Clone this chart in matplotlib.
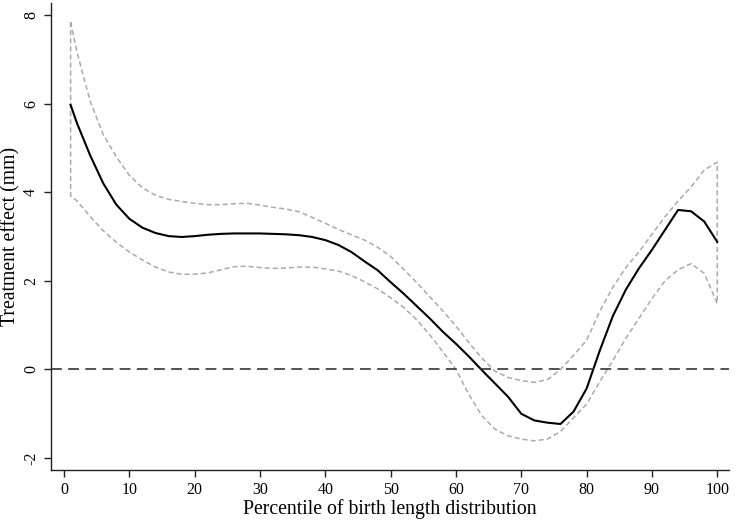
import matplotlib
matplotlib.use("Agg")
import matplotlib.pyplot as plt
import numpy as np

percentile = [1] + list(range(2, 101, 2))
effect = [5.97, 5.55, 4.83, 4.20, 3.72, 3.40, 3.20, 3.08, 3.01, 2.99,
          3.01, 3.04, 3.06, 3.07, 3.07, 3.07, 3.06, 3.05, 3.03, 2.99,
          2.92, 2.81, 2.65, 2.44, 2.24, 1.97, 1.71, 1.43, 1.15, 0.85,
          0.58, 0.29, -0.02, -0.32, -0.62, -1.00, -1.15, -1.20, -1.23, -0.95,
          -0.43, 0.42, 1.20, 1.80, 2.28, 2.70, 3.15, 3.60, 3.57, 3.34,
          2.88]
upper = [7.84, 7.15, 6.05, 5.30, 4.80, 4.38, 4.10, 3.93, 3.84, 3.79,
         3.75, 3.72, 3.72, 3.74, 3.75, 3.71, 3.66, 3.62, 3.56, 3.43,
         3.30, 3.16, 3.04, 2.92, 2.76, 2.55, 2.26, 1.96, 1.64, 1.32,
         0.98, 0.60, 0.25, -0.04, -0.18, -0.25, -0.29, -0.23, 0.00, 0.32,
         0.66, 1.31, 1.85, 2.30, 2.65, 3.05, 3.45, 3.80, 4.12, 4.50,
         4.68]
lower = [3.92, 3.80, 3.45, 3.13, 2.87, 2.65, 2.47, 2.31, 2.20, 2.15,
         2.15, 2.18, 2.25, 2.32, 2.33, 2.30, 2.28, 2.29, 2.31, 2.31,
         2.27, 2.22, 2.12, 1.98, 1.82, 1.62, 1.40, 1.12, 0.78, 0.40,
         0.00, -0.57, -1.05, -1.35, -1.50, -1.57, -1.61, -1.57, -1.40, -1.09,
         -0.78, -0.28, 0.20, 0.70, 1.15, 1.60, 2.00, 2.25, 2.39, 2.17,
         1.49]
xticks = [0, 10, 20, 30, 40, 50, 60, 70, 80, 90, 100]
yticks = [-2, 0, 2, 4, 6, 8]

plt.rcParams['font.family'] = ['Liberation Serif', 'DejaVu Serif']

fig = plt.figure(figsize=(7.5, 5.27), dpi=100)
ax = fig.add_axes([0.068, 0.108, 0.904, 0.8863])

# CI band outline as closed polygon
px = list(percentile) + list(percentile[::-1]) + [percentile[0]]
py = list(upper) + list(lower[::-1]) + [upper[0]]
ax.plot(px, py, color='#aaaaaa', lw=1.1, dashes=(3.3, 2.0))
ax.plot(percentile, effect, color='black', lw=1.5)
ax.axhline(0, color='#333333', lw=1.2, dashes=(6.5, 3.8))

ax.set_xlim(-2, 101.8)
ax.set_ylim(-2.27, 8.27)
ax.set_xticks(xticks)
ax.set_yticks(yticks)
ax.set_yticklabels([str(t) for t in yticks], rotation=90, va='center')
ax.tick_params(labelsize=11.5, length=5, width=1, color='#222222')
for s in ['top', 'right']:
    ax.spines[s].set_visible(False)
for s in ['left', 'bottom']:
    ax.spines[s].set_linewidth(1.0)
    ax.spines[s].set_color('#222222')
ax.set_xlabel('Percentile of birth length distribution', fontsize=14.2, labelpad=1)
ax.set_ylabel('Treatment effect (mm)', fontsize=14.2, labelpad=2)

fig.savefig('out.png', dpi=100)
